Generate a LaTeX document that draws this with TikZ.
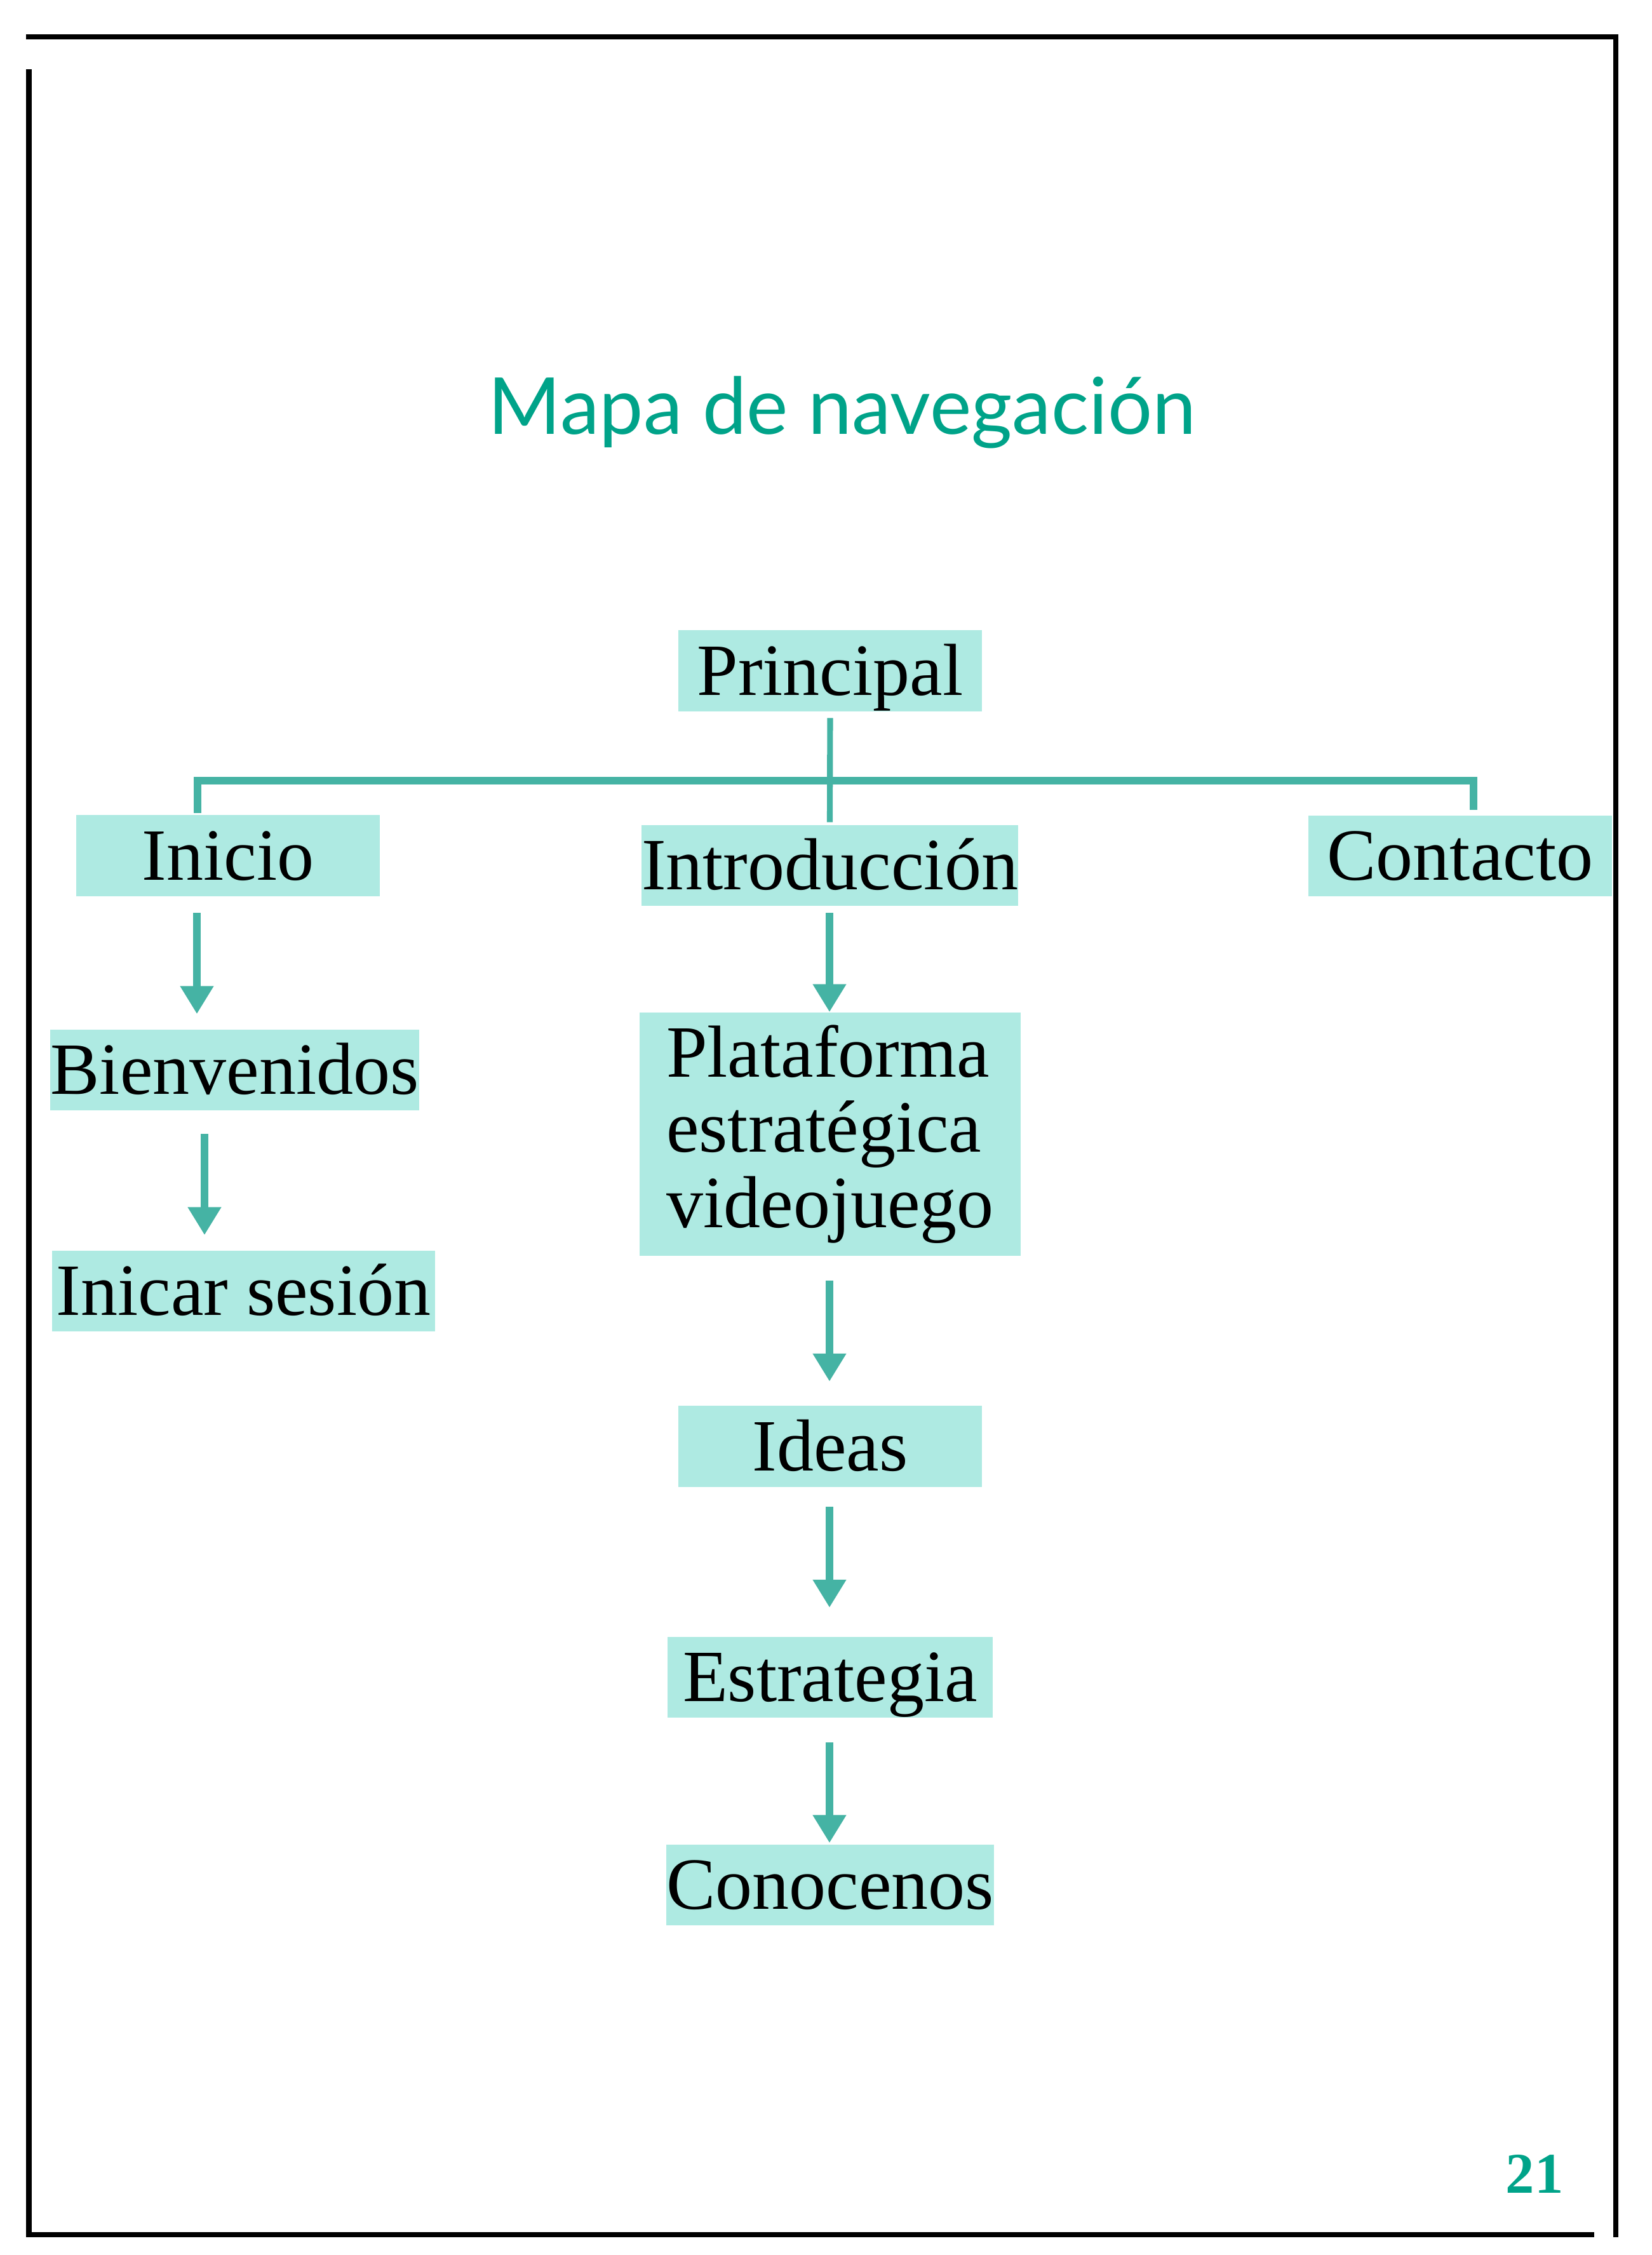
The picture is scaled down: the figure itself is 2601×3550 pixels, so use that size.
\documentclass[tikz,border=0pt]{standalone}
\usepackage{fontspec}
\setmainfont{Liberation Serif}
\newfontfamily\titlefont{Lato}
\usetikzlibrary{arrows.meta}
\definecolor{boxc}{RGB}{174,234,226}
\definecolor{linec}{RGB}{69,179,164}
\definecolor{titlec}{RGB}{0,163,137}
\begin{document}
\begin{tikzpicture}[x=0.01cm,y=-0.01cm,
  box/.style={fill=boxc, inner sep=0pt, minimum height=1.27cm,
    font=\fontsize{33}{34}\selectfont, text height=21.8pt, text depth=0pt},
  conn/.style={draw=linec, line width=3.4pt},
  arr/.style={draw=linec, line width=3.4pt, -{Triangle[length=12.5pt,width=14.2pt]}},
  frame/.style={draw=black, line width=0.08cm}]
\useasboundingbox (0,0) rectangle (2601,3550);
% frame
\draw[frame] (41,57.5) -- (2548,57.5);
\draw[frame] (2544,53.5) -- (2544,3522);
\draw[frame] (45.5,109) -- (45.5,3522);
\draw[frame] (41,3518) -- (2510,3518);
% title
\node[anchor=base, text=titlec, inner sep=0pt, font=\titlefont\fontsize{35.2}{40}\selectfont] (title) at (1326,683) {Mapa de navegación};
% boxes
\node[box, minimum width=4.78cm] (principal) at (1307,1056) {Principal};
\node[box, minimum width=4.78cm] (inicio) at (359,1347) {Inicio};
\node[box, minimum width=5.87cm] (intro) at (1306.5,1362.5) {Introducción};
\node[box, minimum width=4.78cm] (contacto) at (2299,1347.5) {Contacto};
\node[box, minimum width=5.57cm] (bienv) at (369.5,1684.5) {Bienvenidos};
\node[box, minimum width=6.03cm] (inicar) at (383.5,2032.5) {Inicar sesión};
\node[fill=boxc, inner sep=0pt, minimum width=6.00cm, minimum height=3.83cm, align=left,
  font=\fontsize{33}{33.7}\selectfont] (plat) at (1307,1785.5) {Plataforma\\estratégica\\videojuego};
\node[box, minimum width=4.78cm] (ideas) at (1307,2277) {Ideas};
\node[box, minimum width=5.12cm] (estr) at (1307,2640) {Estrategia};
\node[box, minimum width=5.12cm] (cono) at (1307,2967.5) {Conocenos};
% helper coordinates
\coordinate (bar) at (0,1229);
\coordinate (xl) at (311,0);
\coordinate (xr) at (2320,0);
\coordinate (xa) at (310,0);
\coordinate (xb) at (322,0);
\coordinate (xc) at (1306,0);
% connectors
\draw[conn, shorten <=0.03cm, shorten >=0.08cm] (xl |- inicio.north) -- (xl |- bar) -- (xr |- bar) -- (xr |- contacto.north);
\draw[conn, line width=2.6pt, shorten <=0.10cm, shorten >=0.04cm] (principal.south) -- (intro.north);
\draw[arr, shorten <=0.26cm, shorten >=0.24cm] (xa |- inicio.south) -- (xa |- bienv.north);
\draw[arr, shorten <=0.36cm, shorten >=0.24cm] (xb |- bienv.south) -- (xb |- inicar.north);
\draw[arr, shorten <=0.10cm, shorten >=0cm] (xc |- intro.south) -- (xc |- plat.north);
\draw[arr, shorten <=0.38cm, shorten >=0.38cm] (xc |- plat.south) -- (xc |- ideas.north);
\draw[arr, shorten <=0.31cm, shorten >=0.45cm] (xc |- ideas.south) -- (xc |- estr.north);
\draw[arr, shorten <=0.39cm, shorten >=0.02cm] (xc |- estr.south) -- (xc |- cono.north);
% page number
\node[anchor=base, text=titlec, inner sep=0pt,
  font=\bfseries\fontsize{25.8}{28}\selectfont] (pnum) at (2416,3452) {21};
\end{tikzpicture}
\end{document}
